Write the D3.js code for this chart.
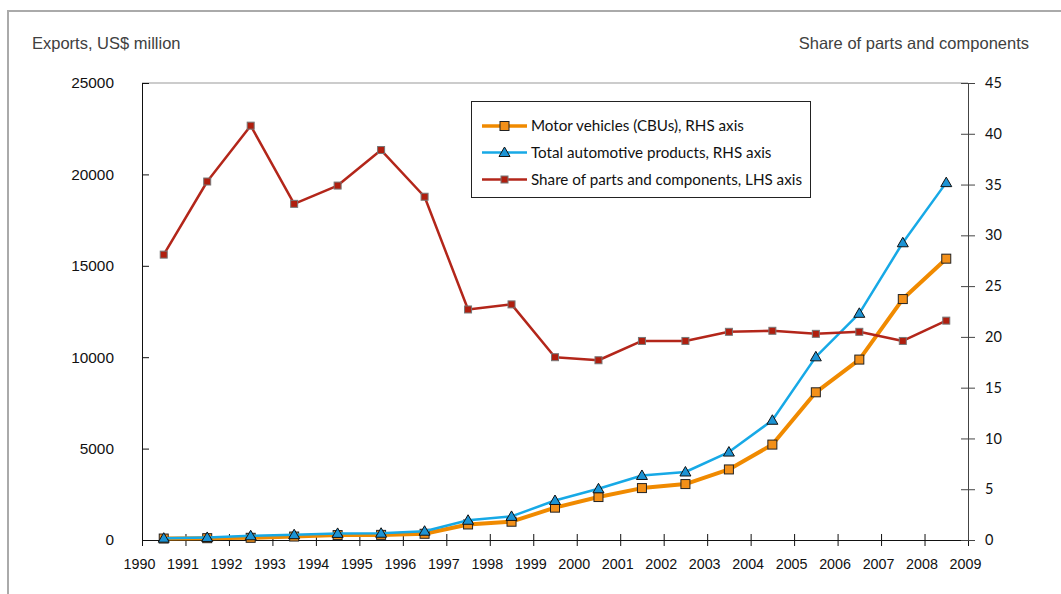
<!doctype html>
<html lang='en'>
  <head>
    <meta charset="utf-8">
    <script src="https://d3js.org/d3.v7.min.js"></script>
    <title>Automotive exports</title>
  <style>
  body{
    margin: 0;
    background: white;
  }
  .axis text {
    font-family: "Liberation Sans", Arial, sans-serif;
    fill: #111;
  }
  .title {
    font-family: "Liberation Sans", Arial, sans-serif;
    font-size: 16.5px;
    fill: #404040;
  }
  .legend text {
    font-family: Lato, "Open Sans", sans-serif;
    font-size: 15.2px;
    fill: #111;
  }
  </style>
  </head>
  <body>
    <div id='chart'></div>
    <script>
    // years of the 19 observations (plotted between the year ticks)
    const years = [1991,1992,1993,1994,1995,1996,1997,1998,1999,2000,2001,2002,2003,2004,2005,2006,2007,2008,2009];
    // exports, US$ million
    const cbus  = [80,100,120,190,270,280,340,850,1000,1770,2350,2840,3060,3860,5220,8080,9870,13180,15390];
    const total = [100,140,230,290,360,370,480,1080,1290,2160,2800,3530,3720,4810,6550,10020,12400,16260,19550];
    // share of parts and components, %
    const share = [28.1,35.3,40.8,33.1,34.9,38.4,33.8,22.7,23.2,18.0,17.7,19.6,19.6,20.5,20.6,20.3,20.5,19.6,21.6];

    const xTicks = d3.range(1990, 2010);
    const leftTicks = [0,5000,10000,15000,20000,25000];
    const rightTicks = [0,5,10,15,20,25,30,35,40,45];

    const legendItems = [
      {label: 'Motor vehicles (CBUs), RHS axis', color: '#f08a00', fill: '#f39019', marker: 'square'},
      {label: 'Total automotive products, RHS axis', color: '#17a9e6', fill: '#1c93d4', marker: 'triangle'},
      {label: 'Share of parts and components, LHS axis', color: '#b3261a', fill: '#b01e0e', marker: 'small'}
    ];

    const wsvg = 1061;
    const hsvg = 594;
    const plotL = 142, plotR = 968, plotT = 83, plotB = 540;

    const svg = d3.select('#chart')
                  .append('svg')
                  .attr('width', wsvg)
                  .attr('height', hsvg);

    // outer frame (only top and left edges are visible)
    svg.append('path')
       .attr('d', 'M8,600 V11 H1070')
       .attr('fill', 'none')
       .attr('stroke', '#aaa')
       .attr('stroke-width', 2);

    const xScale = d3.scaleLinear().domain([1990, 2009]).range([plotL, plotR]);
    const yLeft = d3.scaleLinear().domain([0, 25000]).range([plotB, plotT]);
    const yRight = d3.scaleLinear().domain([0, 45]).range([plotB, plotT]);

    // plot area top edge
    svg.append('line')
       .attr('x1', plotL).attr('x2', plotR)
       .attr('y1', yLeft(25000)).attr('y2', yLeft(25000))
       .attr('stroke', '#999')
       .attr('stroke-width', 1);

    const xAxis = d3.axisBottom(xScale)
                    .tickValues(xTicks)
                    .tickFormat(d3.format('d'))
                    .tickSize(6)
                    .tickSizeOuter(0)
                    .tickPadding(13);

    const leftAxis = d3.axisLeft(yLeft)
                       .tickValues(leftTicks)
                       .tickFormat(d3.format('d'))
                       .tickSize(7)
                       .tickSizeOuter(0)
                       .tickPadding(21);

    const rightAxis = d3.axisRight(yRight)
                        .tickValues(rightTicks)
                        .tickSize(7)
                        .tickSizeOuter(0)
                        .tickPadding(10);

    svg.append('g')
       .attr('class', 'axis')
       .attr('transform', 'translate(0,' + plotB + ')')
       .call(xAxis)
       .call(g => g.select('.domain').attr('stroke', '#111'))
       .call(g => g.selectAll('.tick line').attr('y1', -6).attr('stroke', '#111'))
       .call(g => g.selectAll('.tick text').attr('font-size', 14.3).attr('dx', -3));

    svg.append('g')
       .attr('class', 'axis')
       .attr('transform', 'translate(' + plotL + ',0)')
       .call(leftAxis)
       .call(g => g.select('.domain').attr('stroke', '#111'))
       .call(g => g.selectAll('.tick line').attr('x2', 7).attr('stroke', '#111'))
       .call(g => g.selectAll('.tick text').attr('font-size', 15.4));

    svg.append('g')
       .attr('class', 'axis')
       .attr('transform', 'translate(' + plotR + ',0)')
       .call(rightAxis)
       .call(g => g.select('.domain').attr('stroke', '#444'))
       .call(g => g.selectAll('.tick line').attr('x1', -7).attr('stroke', '#444'))
       .call(g => g.selectAll('.tick text')
                   .attr('font-size', 14.5)
                   .style('font-family', 'Lato, sans-serif'));

    svg.append('text')
       .attr('class', 'title')
       .attr('x', 32)
       .attr('y', 49)
       .text('Exports, US$ million');

    svg.append('text')
       .attr('class', 'title')
       .attr('x', 1029)
       .attr('y', 49)
       .attr('text-anchor', 'end')
       .text('Share of parts and components');

    const px = i => xScale(years[i] - 0.5);

    function drawMarker(sel, type, fill) {
      if (type === 'square') {
        sel.append('rect')
           .attr('x', -4.5).attr('y', -4.5)
           .attr('width', 9).attr('height', 9)
           .attr('fill', fill)
           .attr('stroke', '#222')
           .attr('stroke-width', 1);
      } else if (type === 'triangle') {
        sel.append('path')
           .attr('d', 'M0,-5.5 L5.5,4 L-5.5,4 Z')
           .attr('fill', fill)
           .attr('stroke', '#111')
           .attr('stroke-width', 1);
      } else {
        sel.append('rect')
           .attr('x', -3.5).attr('y', -3.5)
           .attr('width', 7).attr('height', 7)
           .attr('fill', fill)
           .attr('stroke', '#777')
           .attr('stroke-width', 1);
      }
    }

    const series = [
      {values: cbus,  y: yLeft,  item: legendItems[0], width: 4},
      {values: total, y: yLeft,  item: legendItems[1], width: 2.5},
      {values: share, y: yRight, item: legendItems[2], width: 2.5}
    ];

    series.forEach(s => {
      const line = d3.line()
                     .x((d, i) => px(i))
                     .y(d => s.y(d));

      svg.append('path')
         .datum(s.values)
         .attr('d', line)
         .attr('fill', 'none')
         .attr('stroke', s.item.color)
         .attr('stroke-width', s.width)
         .attr('stroke-linejoin', 'round');

      svg.append('g')
         .selectAll('g')
         .data(s.values)
         .enter()
         .append('g')
         .attr('transform', (d, i) => 'translate(' + px(i) + ',' + s.y(d) + ')')
         .each(function () { drawMarker(d3.select(this), s.item.marker, s.item.fill); });
    });

    // legend
    const legend = svg.append('g').attr('class', 'legend');

    legend.append('rect')
          .attr('x', 471.5).attr('y', 101.5)
          .attr('width', 339).attr('height', 96)
          .attr('fill', 'white')
          .attr('stroke', '#222')
          .attr('stroke-width', 1);

    const rowY = [126, 152.5, 179.5];

    legendItems.forEach((item, i) => {
      const row = legend.append('g').attr('transform', 'translate(0,' + rowY[i] + ')');
      row.append('line')
         .attr('x1', 482).attr('x2', 527)
         .attr('y1', 0).attr('y2', 0)
         .attr('stroke', item.color)
         .attr('stroke-width', i === 0 ? 3.5 : 2.5);
      drawMarker(row.append('g').attr('transform', 'translate(504.5,0)'), item.marker, item.fill);
      row.append('text')
         .attr('x', 531)
         .attr('y', 0)
         .attr('dy', '0.35em')
         .text(item.label);
    });
    </script>
  </body>
</html>
